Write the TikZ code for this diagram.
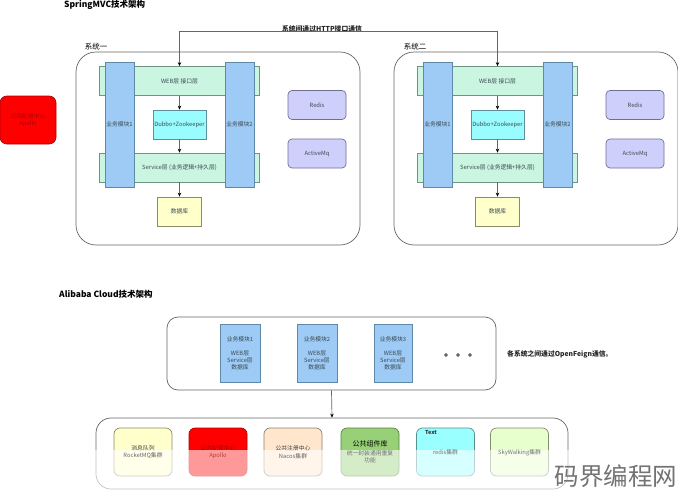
\documentclass[tikz,border=0pt]{standalone}
\usepackage{fontspec}
\setmainfont{Noto Sans CJK SC}
\usetikzlibrary{arrows.meta}
\definecolor{lineg}{HTML}{666666}
\definecolor{txt}{HTML}{3A4A50}
\definecolor{clayer}{HTML}{C9F5E1}
\definecolor{dlayer}{HTML}{6E9484}
\definecolor{cmod}{HTML}{9DCBF6}
\definecolor{dmod}{HTML}{5F89A8}
\definecolor{cdub}{HTML}{99FCFF}
\definecolor{ddub}{HTML}{5F8F9A}
\definecolor{cdb}{HTML}{FFFFCC}
\definecolor{ddb}{HTML}{8A8A66}
\definecolor{csvc}{HTML}{CFCFFB}
\definecolor{dsvc}{HTML}{6F6F96}
\definecolor{dred}{HTML}{B00000}
\definecolor{cpeach}{HTML}{FFE6CC}
\definecolor{dpeach}{HTML}{8F7F6F}
\definecolor{cgreen}{HTML}{97D077}
\definecolor{dgreen}{HTML}{5A7F48}
\definecolor{ccyan}{HTML}{99FFFF}
\definecolor{dcyan}{HTML}{5A8F90}
\definecolor{clime}{HTML}{E6FFCC}
\definecolor{dlime}{HTML}{7F8F70}
\definecolor{fred}{HTML}{B04040}
\tikzset{
  base/.style={draw=lineg,line width=.7pt,inner sep=0pt,align=center,text=txt,font=\fontsize{5.8}{7.5}\selectfont},
  sysbox/.style={base,fill=white,minimum width=284pt,minimum height=193pt,rounded corners=20pt},
  layer/.style={base,fill=clayer,draw=dlayer,minimum width=160pt,minimum height=29pt},
  modbox/.style={base,fill=cmod,draw=dmod,minimum width=29pt,minimum height=125pt},
  dubbo/.style={base,fill=cdub,draw=ddub,minimum width=53pt,minimum height=29pt},
  dbbox/.style={base,fill=cdb,draw=ddb,minimum width=44pt,minimum height=29pt},
  svc/.style={base,fill=csvc,draw=dsvc,minimum width=58pt,minimum height=29pt,rounded corners=4pt},
  arr/.style={draw=lineg,line width=.7pt,-{Stealth[length=4pt,width=3.5pt,color=black]}},
  both/.style={draw=lineg,line width=.7pt,{Stealth[length=4pt,width=3.5pt,color=black]}-{Stealth[length=4pt,width=3.5pt,color=black]}},
  head/.style={font=\fontsize{8.5}{10}\bfseries\selectfont,text=black,inner sep=0pt},
  sub/.style={font=\fontsize{7.5}{9}\selectfont,text=black,inner sep=0pt},
  note/.style={font=\fontsize{6.8}{8}\bfseries\selectfont,text=black!85,inner sep=0pt},
  outer/.style={base,fill=white,rounded corners=#1},
  appmod/.style={base,fill=cmod,draw=dmod,line width=.9pt,minimum height=58pt,font=\fontsize{5.8}{7.2}\selectfont},
  card/.style n args={2}{base,fill=#1,draw=#2,minimum height=48pt,minimum width=58pt,rounded corners=6pt},
  dotm/.style={circle,draw=black!80,line width=.7pt,fill=white,minimum size=2.6pt,inner sep=0pt},
  ctext/.style={inner sep=0pt,align=center,text=#1,font=\fontsize{5.8}{7.2}\selectfont}
}
\newcommand{\sysblock}[2]{%
  \node[sysbox] (sys#2) at (218+#1,148.5) {};
  \node[layer] (web#2) at (179.5+#1,81) {WEB层 接口层};
  \node[layer] (srv#2) at (179.5+#1,167.5) {Service层 (业务逻辑+持久层)};
  \node[modbox] (ma#2) at (119.5+#1,124.5) {业务模块1};
  \node[modbox] (mb#2) at (239.5+#1,124.5) {业务模块2};
  \node[dubbo] (dub#2) at (179.5+#1,124.5) {Dubbo+Zookeeper};
  \node[dbbox] (db#2) at (179.5+#1,211.5) {数据库};
  \node[svc] (red#2) at (317+#1,105) {Redis};
  \node[svc] (mq#2) at (317+#1,153.5) {ActiveMq};
  \draw[arr] (web#2) -- (dub#2);
  \draw[arr] (dub#2) -- (srv#2);
  \draw[arr] (srv#2) -- (db#2);
}
\begin{document}
\begin{tikzpicture}[x=1pt,y=-1pt]
\useasboundingbox (0,0) rectangle (678,490);
\fill[white] (0,0) rectangle (678,490);
\node[head,anchor=west] (t1) at (64,5) {SpringMVC技术架构};
\node[head,anchor=west] (t2) at (59,294) {Alibaba Cloud技术架构};
\node[sub] (s1) at (96,47) {系统一};
\node[sub] (s2) at (415,47) {系统二};
\node[note] (n1) at (322,29) {系统间通过HTTP接口通信};
\sysblock{0}{A}
\sysblock{318}{B}
\draw[both] (webA.north) -- ++(0,-34.5) -| (webB.north);
\node[base,fill=red,draw=dred,minimum width=56pt,minimum height=48pt,rounded corners=7pt,text=dred] (cfg) at (28,120) {公共配置中心\\Apollo};
% Alibaba part
\node[outer=11pt,minimum width=329pt,minimum height=73pt] (app) at (331.5,353.5) {};
\node[appmod,minimum width=40pt] (a1) at (240,353.5) {业务模块1\\[6pt]WEB层\\Service层\\数据库};
\node[appmod,minimum width=40pt] (a2) at (317,353.5) {业务模块2\\[6pt]WEB层\\Service层\\数据库};
\node[appmod,minimum width=38pt] (a3) at (393,353.5) {业务模块3\\[6pt]WEB层\\Service层\\数据库};
\node[dotm] (d1) at (446,355) {};
\node[dotm] (d2) at (458,355) {};
\node[dotm] (d3) at (470,355) {};
\node[note,anchor=west] (n2) at (507,354) {各系统之间通过OpenFeign通信。};
\node[outer=15pt,minimum width=472pt,minimum height=71pt] (infra) at (332,453.5) {};
\draw[arr] (app.south) -- (infra.north);
\node[card={cdb}{ddb}] (c1) at (143,452) {};
\node[card={red}{dred}] (c2) at (218,452) {};
\node[card={cpeach}{dpeach}] (c3) at (293,452) {};
\node[card={cgreen}{dgreen}] (c4) at (370,452) {};
\node[card={ccyan}{dcyan}] (c5) at (445.5,452) {};
\node[card={clime}{dlime}] (c6) at (519.5,452) {};
\node[ctext=black!75] (l1) at (143,448) {消息队列};
\node[ctext=dred] (l2) at (218,448) {公共配置中心};
\node[ctext=black!75] (l3) at (293,448) {公共注册中心};
\node[ctext=black,font=\fontsize{7}{8}\selectfont] (l4) at (370,444) {公共组件库};
\node[ctext=black!80,font=\fontsize{5.5}{6.5}\bfseries\selectfont] (l5) at (431,432.5) {Text};
% translucent fade over the lower part of the band
\fill[white,opacity=.6] (90,450) rectangle (574,490);
\node[ctext=black!60] (m1) at (143,456) {RocketMQ集群};
\node[ctext=fred] (m2) at (218,456) {Apollo};
\node[ctext=black!60] (m3) at (293,456) {Nacos集群};
\node[ctext=black!55] (m4) at (370,456.5) {统一封装通用重复\\功能};
\node[ctext=black!55] (m5) at (445.5,452.5) {redis集群};
\node[ctext=black!55] (m6) at (519.5,452.5) {SkyWalking集群};
\node[inner sep=0pt,anchor=east,text=black!55,font=\fontsize{24.5}{26}\selectfont] (wm) at (677.5,476) {码界编程网};
\end{tikzpicture}
\end{document}
